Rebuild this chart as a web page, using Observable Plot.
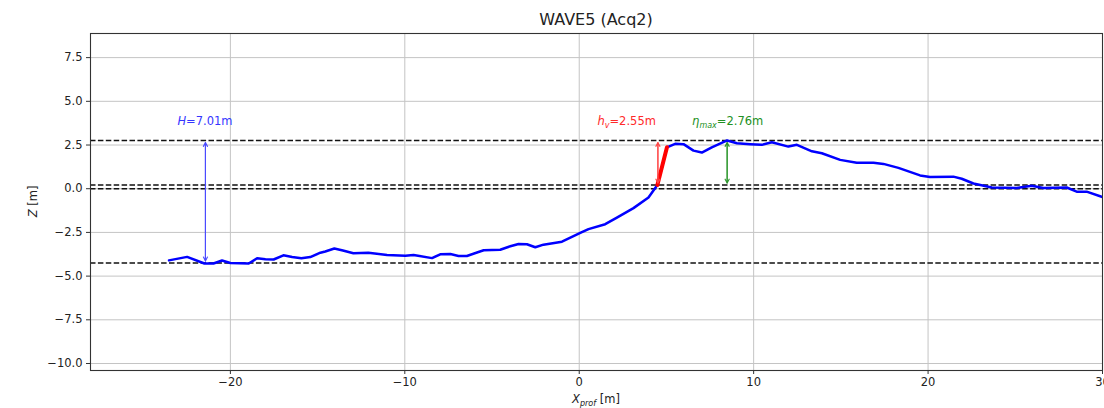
<!DOCTYPE html>
<html>
<head>
<meta charset="utf-8">
<script src="https://cdn.jsdelivr.net/npm/d3@7"></script>
<script src="https://cdn.jsdelivr.net/npm/@observablehq/plot@0.6"></script>
<style>
  body { margin: 0; background: #fff; }
  #chart svg { font-family: "DejaVu Sans", sans-serif; }
</style>
</head>
<body>
<div id="chart"></div>
<script>
// ---- data ----
const titleText = "WAVE5 (Acq2)";
const profX = [-23.52, -22.48, -21.49, -20.97, -20.48, -20.00, -18.95, -18.47, -17.99, -17.52,
  -16.96, -16.46, -15.93, -15.42, -14.84, -14.56, -14.04, -13.55, -12.95, -12.09,
  -11.02, -9.97, -9.50, -8.44, -7.97, -7.39, -6.92, -6.44, -5.48, -4.53,
  -3.95, -3.48, -3.00, -2.52, -2.05, -0.99, 0.06, 0.53, 1.49, 2.16,
  3.11, 3.97, 4.48, 5.03, 5.50, 5.98, 6.55, 7.03, 7.60, 8.48,
  9.04, 9.80, 10.47, 11.04, 11.99, 12.48, 13.34, 13.91, 14.96, 15.91,
  16.87, 17.44, 18.30, 19.54, 20.11, 21.45, 21.93, 22.60, 23.65, 25.08,
  25.94, 26.61, 27.95, 28.52, 29.09, 29.95, 30.6];
const profZ = [-4.10, -3.90, -4.28, -4.28, -4.11, -4.25, -4.28, -3.98, -4.04, -4.05,
  -3.81, -3.91, -3.98, -3.91, -3.66, -3.59, -3.42, -3.53, -3.69, -3.66,
  -3.79, -3.83, -3.79, -3.97, -3.75, -3.74, -3.85, -3.85, -3.52, -3.49,
  -3.29, -3.16, -3.18, -3.35, -3.20, -3.03, -2.53, -2.31, -2.03, -1.65,
  -1.11, -0.50, 0.21, 2.37, 2.57, 2.55, 2.18, 2.07, 2.37, 2.76,
  2.60, 2.55, 2.51, 2.66, 2.41, 2.51, 2.14, 2.03, 1.65, 1.48,
  1.48, 1.42, 1.19, 0.76, 0.67, 0.69, 0.57, 0.30, 0.07, 0.04,
  0.17, 0.04, 0.07, -0.17, -0.17, -0.46, -0.62];
const runupX = [4.48, 5.03];          // steep segment shown in red
const levelZ = [2.76, 0.21, 0.0, -4.25];
const xTicks = [-20, -10, 0, 10, 20, 30];
const yTicks = [-10, -7.5, -5, -2.5, 0, 2.5, 5, 7.5];
const arrowX = [-21.43, 4.51, 8.48];
const arrowZ1 = [-4.25, 0.21, 0.21];
const arrowZ2 = [2.76, 2.76, 2.76];
const arrowColor = ["#4b4bff", "#ff4848", "#2e962e"];
const labelX = [-21.43, 2.75, 8.54];
const labelZ = [3.85, 3.85, 3.85];
const labelMain = ["H", "h", "η"];
const labelSub = ["", "v", "max"];
const labelValue = ["7.01", "2.55", "2.76"];
const labelColor = ["#3535ff", "#ff2a2a", "#239023"];

// ---- tables built from the arrays ----
const profile = profX.map((x, i) => ({x, z: profZ[i]}));
const runup = profile.filter(d => d.x >= runupX[0] && d.x <= runupX[1]);
const arrows = arrowX.map((x, i) => ({x, z1: arrowZ1[i], z2: arrowZ2[i], c: arrowColor[i]}));

const plot = Plot.plot({
  width: 1104,
  height: 408,
  marginLeft: 90,
  marginRight: 2,
  marginTop: 33,
  marginBottom: 38,
  style: {fontFamily: "DejaVu Sans, sans-serif", fontSize: "11.5px", color: "#222", background: "white"},
  x: {domain: [-28.02, 30], label: null},
  y: {domain: [-10.4, 8.88], label: null},
  marks: [
    Plot.gridX(xTicks, {stroke: "#c4c4c4", strokeOpacity: 1, strokeWidth: 1}),
    Plot.gridY(yTicks, {stroke: "#c4c4c4", strokeOpacity: 1, strokeWidth: 1}),
    Plot.ruleY(levelZ, {stroke: "#111", strokeWidth: 1.5, strokeDasharray: "5.5,2.4"}),
    Plot.line(profile, {x: "x", y: "z", stroke: "#0000ff", strokeWidth: 2.5, clip: true}),
    Plot.line(runup, {x: "x", y: "z", stroke: "#ff0000", strokeWidth: 4}),
    Plot.arrow(arrows, {x: "x", y1: "z1", y2: "z2", stroke: d => d.c, strokeWidth: 1.1,
      headLength: 6, headAngle: 55, insetStart: 2, insetEnd: 2}),
    Plot.arrow(arrows, {x: "x", y1: "z2", y2: "z1", stroke: d => d.c, strokeWidth: 1.1,
      headLength: 6, headAngle: 55, insetStart: 2, insetEnd: 2}),
    Plot.axisX(xTicks, {tickSize: 4, tickPadding: 3, tickFormat: d3.format("d"), stroke: "#333", label: null}),
    Plot.axisY(yTicks, {tickSize: 4, tickPadding: 4, tickFormat: d3.format(".1f"), stroke: "#333", label: null}),
    Plot.frame({stroke: "#333", strokeWidth: 1.1})
  ]
});

document.getElementById("chart").appendChild(plot);

// ---- rich text (italic/subscript) placed through the plot's own scales ----
const sx = plot.scale("x"), sy = plot.scale("y");
const svg = d3.select(plot);
const [r0, r1] = sx.range;
const [t0, t1] = sy.range;   // bottom, top

svg.append("text")
  .attr("x", (r0 + r1) / 2).attr("y", 25)
  .attr("text-anchor", "middle")
  .attr("font-size", 16).attr("fill", "#222")
  .text(titleText);

const yl = svg.append("text")
  .attr("transform", `translate(37,${(t0 + t1) / 2}) rotate(-90)`)
  .attr("text-anchor", "middle").attr("font-size", 11.5).attr("fill", "#222");
yl.append("tspan").attr("font-style", "italic").text("Z");
yl.append("tspan").text(" [m]");

const xl = svg.append("text")
  .attr("x", (r0 + r1) / 2).attr("y", 403)
  .attr("text-anchor", "middle").attr("font-size", 11.5).attr("fill", "#222");
xl.append("tspan").attr("font-style", "italic").text("X");
xl.append("tspan").attr("font-style", "italic").attr("font-size", 8).attr("dy", 3).text("prof");
xl.append("tspan").attr("dy", -3).text(" [m]");

labelMain.forEach((m, i) => {
  const t = svg.append("text")
    .attr("x", sx.apply(labelX[i])).attr("y", sy.apply(labelZ[i]) + 4)
    .attr("text-anchor", "middle").attr("font-size", 11.5).attr("fill", labelColor[i]);
  t.append("tspan").attr("font-style", "italic").text(m);
  if (labelSub[i]) {
    t.append("tspan").attr("font-style", "italic").attr("font-size", 8).attr("dy", 3).text(labelSub[i]);
    t.append("tspan").attr("dy", -3).text("=" + labelValue[i] + "m");
  } else {
    t.append("tspan").text("=" + labelValue[i] + "m");
  }
});
</script>
</body>
</html>
